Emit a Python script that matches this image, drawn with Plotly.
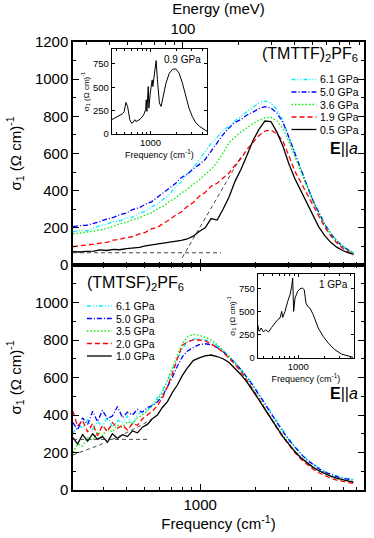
import math
import plotly.graph_objects as go

CM_PER_MEV = 8.0655
FONT = "Liberation Sans, Arial, sans-serif"

# ---- top panel: (TMTTF)2PF6 ----
freq_top = [205, 223, 243, 265, 286, 311, 340, 366, 399, 430, 469, 505, 545, 587, 632, 681,
            734, 790, 851, 917, 988, 1064, 1146, 1235, 1330, 1433, 1544, 1663, 1792, 1931,
            2080, 2241, 2414, 2601, 2802, 3019, 3252, 3504, 3775, 4067, 4381, 4720, 5085,
            5478, 5902, 6358, 6765]
s_61 = [179, 186, 183, 197, 212, 218, 235, 236, 253, 258, 278, 289, 313, 328, 356, 380,
        418, 447, 490, 522, 566, 608, 655, 688, 724, 748, 778, 798, 827, 849,
        871, 883, 871, 838, 778, 686, 600, 520, 430, 350, 282, 222, 172, 133, 102, 80, 66]
s_50 = [206, 212, 214, 224, 233, 247, 256, 270, 280, 298, 308, 327, 340, 365, 388, 414,
        438, 470, 488, 517, 540, 568, 612, 652, 702, 738, 767, 783, 807, 823,
        842, 852, 845, 818, 768, 688, 600, 515, 430, 350, 280, 218, 168, 130, 100, 78, 63]
s_36 = [167, 171, 174, 182, 188, 199, 208, 222, 230, 244, 253, 270, 280, 302, 316, 342,
        360, 387, 408, 434, 457, 487, 513, 552, 608, 657, 688, 717, 738, 762,
        778, 792, 795, 775, 735, 665, 585, 505, 425, 345, 277, 215, 165, 127, 97, 75, 60]
s_19 = [99, 103, 105, 112, 117, 122, 134, 138, 148, 152, 167, 176, 194, 203, 224, 243,
        268, 285, 315, 336, 370, 390, 423, 440, 468, 495, 537, 573, 622, 658,
        697, 720, 726, 705, 667, 588, 505, 445, 385, 322, 260, 204, 157, 120, 90, 68, 52]
s_05 = [72, 70, 73, 75, 81, 78, 84, 82, 88, 91, 95, 103, 108, 112, 115, 120,
        126, 133, 140, 155, 180, 200, 250, 242, 300, 366, 450, 515, 590, 670,
        730, 775, 772, 715, 640, 545, 465, 400, 330, 262, 205, 158, 122, 96, 78, 65, 57]
top_labels = ["6.1 GPa", "5.0 GPa", "3.6 GPa", "1.9 GPa", "0.5 GPa"]
top_series = [s_61, s_50, s_36, s_19, s_05]
# extrapolation guides (top)
gap_flat_x, gap_flat_y = [205, 1297], [66, 66]
gap_edge_x, gap_edge_y = [800, 1680], [40, 590]

# ---- bottom panel: (TMTSF)2PF6 ----
freq_bot = [205, 217, 231, 246, 262, 278, 296, 315, 335, 357, 380, 404, 430, 458, 487, 518,
            551, 587, 624, 664, 707, 752, 800, 851, 917, 988, 1064, 1146, 1235, 1330,
            1433, 1544, 1663, 1792, 1931, 2080, 2241, 2414, 2601, 2802, 3019, 3252, 3504,
            3775, 4067, 4381, 4720, 5085, 5478, 5902, 6358, 6765]
b_61 = [300, 350, 330, 375, 320, 365, 340, 390, 335, 370, 360, 395, 350, 405, 420, 425,
        460, 490, 530, 580, 640, 700, 750, 790, 805, 808, 800, 790, 770, 745,
        715, 682, 645, 605, 560, 512, 462, 412, 362, 315, 272, 232, 196, 165, 140, 118,
        100, 86, 75, 67, 61, 57]
b_50 = [360, 320, 385, 350, 420, 365, 425, 380, 395, 445, 385, 415, 400, 430, 415, 440,
        450, 470, 500, 550, 600, 660, 710, 740, 760, 775, 780, 775, 760, 738,
        710, 678, 642, 602, 557, 508, 458, 408, 358, 311, 268, 228, 192, 161, 136, 114,
        96, 82, 71, 63, 56, 52]
b_35 = [200, 245, 235, 280, 265, 310, 290, 330, 310, 345, 335, 365, 355, 385, 400, 420,
        450, 480, 520, 580, 650, 720, 780, 815, 830, 825, 815, 800, 775, 745,
        712, 675, 635, 590, 540, 490, 438, 388, 338, 292, 250, 210, 176, 147, 123, 103,
        86, 72, 61, 53, 46, 42]
b_20 = [420, 340, 370, 310, 355, 290, 345, 310, 360, 330, 345, 320, 355, 345, 380, 400,
        420, 450, 490, 550, 620, 700, 770, 790, 800, 800, 795, 780, 760, 735,
        705, 670, 630, 585, 535, 485, 432, 380, 330, 283, 240, 200, 165, 136, 112, 92,
        76, 63, 53, 45, 39, 35]
b_10 = [280, 245, 295, 260, 300, 270, 285, 255, 300, 275, 295, 285, 315, 305, 335, 350,
        380, 400, 440, 470, 520, 560, 610, 650, 690, 705, 715, 720, 712, 700,
        680, 650, 615, 575, 530, 480, 430, 380, 330, 285, 245, 205, 172, 145, 122, 103,
        87, 74, 63, 54, 47, 42]
bot_labels = ["6.1 GPa", "5.0 GPa", "3.5 GPa", "2.0 GPa", "1.0 GPa"]
bot_series = [b_61, b_50, b_35, b_20, b_10]
fit_flat_x, fit_flat_y = [205, 520], [270, 270]
fit_drude_x, fit_drude_y = [205, 286, 380, 480, 560], [187, 240, 295, 345, 385]

# ---- insets ----
ins1_f = [353, 403, 440, 472, 493, 516, 540, 574, 600, 627, 655, 673, 714, 781, 831, 877,
          892, 907, 940, 957, 992, 1045, 1064, 1121, 1162, 1203, 1269, 1327, 1410, 1514,
          1653, 1806, 1972, 2155, 2355, 2571, 2806, 3066, 3348, 3724, 4175, 4558]
ins1_s = [153, 181, 206, 217, 240, 338, 295, 153, 117, 124, 153, 135, 142, 171, 206, 260,
          366, 242, 508, 277, 437, 580, 508, 686, 786, 580, 331, 295, 402, 544,
          650, 693, 697, 650, 544, 402, 277, 188, 124, 82, 53, 28]
ins2_f = [340, 353, 372, 396, 421, 452, 493, 540, 578, 615, 643, 660, 703, 754, 802, 838,
          861, 883, 916, 982, 1045, 1121, 1172, 1225, 1280, 1361, 1487, 1698, 1937, 2212,
          2637, 3147, 3757, 4286]
ins2_s = [361, 288, 325, 281, 307, 281, 332, 379, 415, 433, 505, 440, 505, 613, 685, 775,
          865, 505, 649, 721, 750, 757, 739, 595, 559, 541, 469, 325, 234, 162,
          90, 43, 18, 7]

colors = ["#00f0ff", "#0000ff", "#00ee00", "#ff0000", "#000000"]
dashes = ["4px,2px,1px,2px,1px,2px", "5px,2px,1px,2px", "1.5px,2px", "5px,3px", "solid"]

W, H = 374, 538
L, R, T, B = 73, 8, 42, 48
def px(x):
    return (x - L) / (W - L - R)
def py(y):
    return (H - B - y) / (H - T - B)

fig = go.Figure()
for vals, c, d, name in zip(top_series, colors, dashes, top_labels):
    fig.add_trace(go.Scatter(x=freq_top, y=vals, mode="lines", name=name, xaxis="x2", yaxis="y2",
                             line=dict(color=c, width=1.3, dash=d), showlegend=False))
for xs, ys in [(gap_flat_x, gap_flat_y), (gap_edge_x, gap_edge_y)]:
    fig.add_trace(go.Scatter(x=xs, y=ys, mode="lines", xaxis="x2", yaxis="y2", showlegend=False,
                             line=dict(color="#333", width=0.9, dash="4px,3px")))
fig.add_trace(go.Scatter(x=[freq_top[0] / CM_PER_MEV, freq_top[-1] / CM_PER_MEV], y=[None, None],
                         xaxis="x3", yaxis="y2", showlegend=False, hoverinfo="skip"))

for vals, c, d, name in zip(bot_series, colors, dashes, bot_labels):
    fig.add_trace(go.Scatter(x=freq_bot, y=vals, mode="lines", name=name, xaxis="x", yaxis="y",
                             line=dict(color=c, width=1.3, dash=d), showlegend=False))
for xs, ys in [(fit_flat_x, fit_flat_y), (fit_drude_x, fit_drude_y)]:
    fig.add_trace(go.Scatter(x=xs, y=ys, mode="lines", xaxis="x", yaxis="y", showlegend=False,
                             line=dict(color="#333", width=0.9, dash="4px,3px")))

fig.add_trace(go.Scatter(x=ins1_f, y=ins1_s, mode="lines", xaxis="x4", yaxis="y4", showlegend=False,
                         line=dict(color="black", width=1)))
fig.add_trace(go.Scatter(x=ins2_f, y=ins2_s, mode="lines", xaxis="x5", yaxis="y5", showlegend=False,
                         line=dict(color="black", width=1)))

xr = [math.log10(205), math.log10(7700)]
minor_f = [300, 400, 500, 600, 700, 800, 900, 2000, 3000, 4000, 5000, 6000, 7000]
minor_e = [30, 40, 50, 60, 70, 80, 90, 200, 300, 400, 500, 600, 700, 800, 900]
ax_common = dict(showline=True, linecolor="black", linewidth=1.5, ticks="inside",
                 tickcolor="black", tickwidth=1.2, ticklen=6, showgrid=False, zeroline=False,
                 tickfont=dict(size=15, color="black", family=FONT))
ytitle = "σ<sub>1</sub> (Ω cm)<sup>-1</sup>"
dom_split = py(265)

fig.update_layout(
    width=W, height=H, margin=dict(l=L, r=R, t=T, b=B),
    paper_bgcolor="white", plot_bgcolor="white",
    font=dict(family=FONT, color="black"),
    xaxis=dict(**ax_common, type="log", range=xr, anchor="y", mirror="ticks",
               tickvals=[1000], ticktext=["1000"],
               minor=dict(tickvals=minor_f, ticks="inside", ticklen=3.5, tickcolor="black"),
               title=dict(text="Frequency (cm<sup>-1</sup>)", font=dict(size=15), standoff=4)),
    yaxis=dict(**ax_common, domain=[0, dom_split], range=[0, 1200], anchor="x", mirror="ticks",
               tickvals=[0, 200, 400, 600, 800, 1000],
               minor=dict(dtick=100, ticks="inside", ticklen=3.5, tickcolor="black"),
               title=dict(text=ytitle, font=dict(size=15), standoff=10)),
    xaxis2=dict(**ax_common, type="log", range=xr, anchor="y2", showticklabels=False,
                tickvals=[1000],
                minor=dict(tickvals=minor_f, ticks="inside", ticklen=3.5, tickcolor="black")),
    yaxis2=dict(**ax_common, domain=[dom_split, 1], range=[0, 1200], anchor="x2", mirror="ticks",
                tickvals=[0, 200, 400, 600, 800, 1000, 1200],
                minor=dict(dtick=100, ticks="inside", ticklen=3.5, tickcolor="black"),
                title=dict(text=ytitle, font=dict(size=15), standoff=10)),
    xaxis3=dict(**ax_common, type="log", overlaying="x2", side="top", anchor="y2",
                range=[xr[0] - math.log10(CM_PER_MEV), xr[1] - math.log10(CM_PER_MEV)],
                tickvals=[100], ticktext=["100"],
                minor=dict(tickvals=minor_e, ticks="inside", ticklen=3.5, tickcolor="black"),
                title=dict(text="Energy (meV)", font=dict(size=15), standoff=2)),
)

ins_common = dict(showline=True, linecolor="black", linewidth=1, ticks="inside", tickcolor="black",
                  tickwidth=1, ticklen=3, showgrid=False, zeroline=False, mirror="ticks",
                  tickfont=dict(size=9.5, color="black", family=FONT))
for k, (x0, x1, y0, y1, frange) in zip(
        (4, 5), [(112, 208, 134, 49, (353, 4560)), (259, 356, 358, 274, (340, 4400))]):
    fig.update_layout({
        f"xaxis{k}": dict(**ins_common, domain=[px(x0), px(x1)], anchor=f"y{k}", type="log",
                          range=[math.log10(frange[0]), math.log10(frange[1])],
                          tickvals=[1000], ticktext=["1000"],
                          minor=dict(tickvals=[400, 500, 600, 700, 800, 900, 2000, 3000, 4000],
                                     ticks="inside", ticklen=2, tickcolor="black"),
                          title=dict(text="Frequency (cm<sup>-1</sup>)", font=dict(size=9),
                                     standoff=1)),
        f"yaxis{k}": dict(**ins_common, domain=[py(y0), py(y1)], anchor=f"x{k}", range=[0, 910],
                          tickvals=[0, 250, 500, 750],
                          title=dict(text=ytitle, font=dict(size=8), standoff=2)),
    })

ann = [
    dict(x=px(362), y=py(55), text="(TMTTF)<sub>2</sub>PF<sub>6</sub>", xanchor="right", size=16),
    dict(x=px(85), y=py(283), text="(TMTSF)<sub>2</sub>PF<sub>6</sub>", xanchor="left", size=16),
    dict(x=px(362), y=py(148), text="<b>E</b>||<i>a</i>", xanchor="right", size=16),
    dict(x=px(362), y=py(393), text="<b>E</b>||<i>a</i>", xanchor="right", size=16),
    dict(x=px(204), y=py(60), text="0.9 GPa", xanchor="right", size=10),
    dict(x=px(352), y=py(284), text="1 GPa", xanchor="right", size=10),
]
annotations = [dict(xref="paper", yref="paper", x=a["x"], y=a["y"], text=a["text"],
                    xanchor=a["xanchor"], yanchor="middle", showarrow=False,
                    font=dict(size=a["size"], family=FONT, color="black")) for a in ann]

# hand-drawn legends (compact rows like the original)
shapes = []
for labels, lx0, lx1, tx, y0 in [(top_labels, 293, 318, 320, 79.5), (bot_labels, 87, 112, 114, 306)]:
    for i, (lab, c, d) in enumerate(zip(labels, colors, dashes)):
        yy = y0 + i * 12.5
        shapes.append(dict(type="line", xref="paper", yref="paper", x0=px(lx0), x1=px(lx1),
                           y0=py(yy), y1=py(yy), line=dict(color=c, width=1.3, dash=d)))
        annotations.append(dict(xref="paper", yref="paper", x=px(tx), y=py(yy), text=lab,
                                xanchor="left", yanchor="middle", showarrow=False,
                                font=dict(size=10.5, family=FONT, color="black")))
fig.update_layout(annotations=annotations, shapes=shapes)

fig.write_html("out.html", config={"displayModeBar": False},
               post_script="document.body.style.margin='0';")
